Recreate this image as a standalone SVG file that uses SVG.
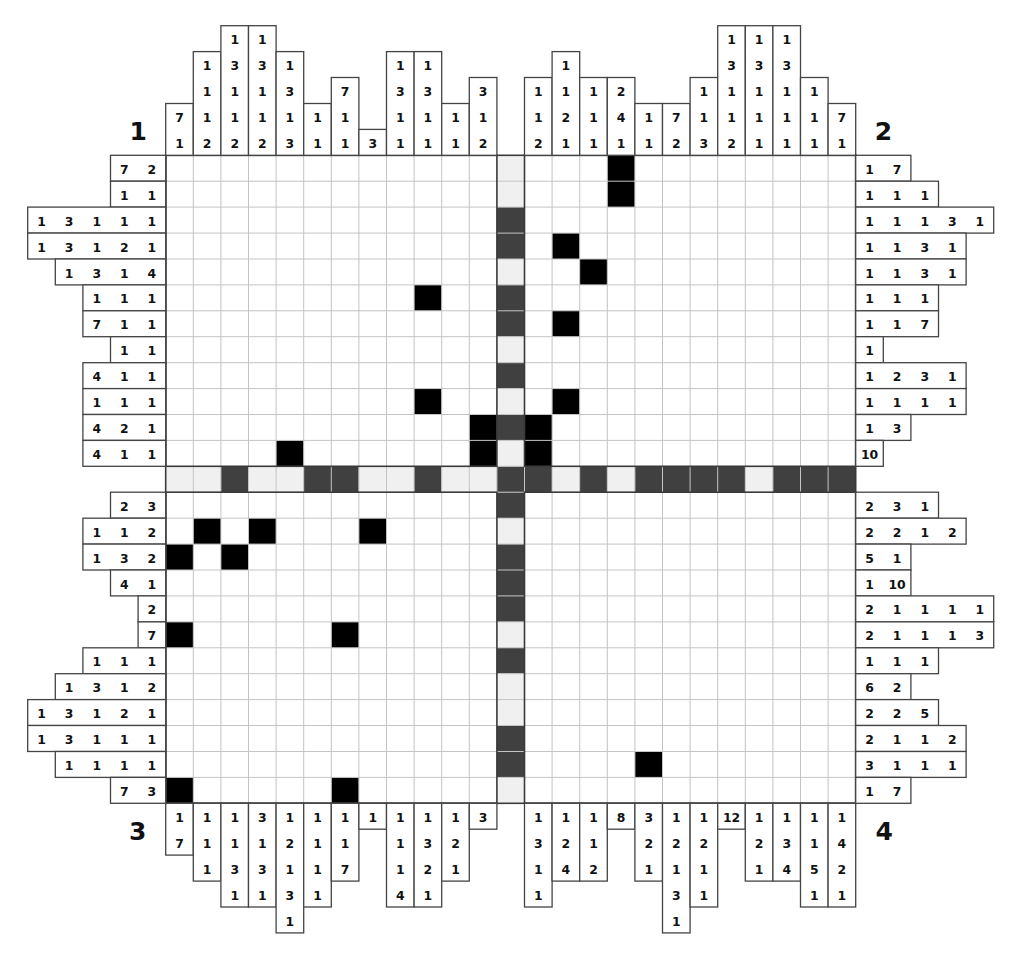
<svg xmlns="http://www.w3.org/2000/svg" width="1024" height="968" viewBox="0 0 1024 968">
<style>
.t{font-family:"DejaVu Sans","Verdana","Liberation Sans",sans-serif;font-weight:bold;font-size:12.4px;text-anchor:middle;fill:#111;transform:translate(0px,1.3px)}
.lbl{font-family:"DejaVu Sans","Verdana","Liberation Sans",sans-serif;font-weight:bold;font-size:25px;text-anchor:middle;fill:#111}
.b{fill:#fff;stroke:#444;stroke-width:1.3}
.L{fill:#f0f0f0}
.D{fill:#404040}
.K{fill:#000}
.g{fill:none;stroke:#c4c4c4;stroke-width:1}
.q{fill:none;stroke:#3a3a3a;stroke-width:1.6}
</style>
<rect x="0" y="0" width="1024" height="968" fill="#fff"/>
<g id="labels">
<text class="lbl" x="138.3" y="140">1</text>
<text class="lbl" x="883.5" y="140">2</text>
<text class="lbl" x="137.7" y="840">3</text>
<text class="lbl" x="884.3" y="840">4</text>
</g>
<g id="grid">
<rect x="165.7" y="155.3" width="690" height="648" fill="#fff"/>
<g id="center-cells">
<rect class="L" x="165.7" y="466.3" width="55.2" height="25.9"/>
<rect class="D" x="220.9" y="466.3" width="27.6" height="25.9"/>
<rect class="L" x="248.5" y="466.3" width="55.2" height="25.9"/>
<rect class="D" x="303.7" y="466.3" width="55.2" height="25.9"/>
<rect class="L" x="358.9" y="466.3" width="55.2" height="25.9"/>
<rect class="D" x="414.1" y="466.3" width="27.6" height="25.9"/>
<rect class="L" x="441.7" y="466.3" width="55.2" height="25.9"/>
<rect class="D" x="496.9" y="466.3" width="55.2" height="25.9"/>
<rect class="L" x="552.1" y="466.3" width="27.6" height="25.9"/>
<rect class="D" x="579.7" y="466.3" width="27.6" height="25.9"/>
<rect class="L" x="607.3" y="466.3" width="27.6" height="25.9"/>
<rect class="D" x="634.9" y="466.3" width="110.4" height="25.9"/>
<rect class="L" x="745.3" y="466.3" width="27.6" height="25.9"/>
<rect class="D" x="772.9" y="466.3" width="82.8" height="25.9"/>
<rect class="L" x="496.9" y="155.3" width="27.6" height="51.8"/>
<rect class="D" x="496.9" y="207.1" width="27.6" height="51.9"/>
<rect class="L" x="496.9" y="259.0" width="27.6" height="25.9"/>
<rect class="D" x="496.9" y="284.9" width="27.6" height="51.8"/>
<rect class="L" x="496.9" y="336.7" width="27.6" height="26"/>
<rect class="D" x="496.9" y="362.7" width="27.6" height="25.9"/>
<rect class="L" x="496.9" y="388.6" width="27.6" height="25.9"/>
<rect class="D" x="496.9" y="414.5" width="27.6" height="25.9"/>
<rect class="L" x="496.9" y="440.4" width="27.6" height="25.9"/>
<rect class="D" x="496.9" y="492.2" width="27.6" height="26"/>
<rect class="L" x="496.9" y="518.2" width="27.6" height="25.9"/>
<rect class="D" x="496.9" y="544.1" width="27.6" height="77.8"/>
<rect class="L" x="496.9" y="621.9" width="27.6" height="25.9"/>
<rect class="D" x="496.9" y="647.8" width="27.6" height="25.9"/>
<rect class="L" x="496.9" y="673.7" width="27.6" height="51.8"/>
<rect class="D" x="496.9" y="725.5" width="27.6" height="51.9"/>
<rect class="L" x="496.9" y="777.4" width="27.6" height="25.9"/>
</g>
<g id="filled">
<rect class="K" x="414.1" y="284.9" width="27.6" height="25.9"/>
<rect class="K" x="414.1" y="388.6" width="27.6" height="25.9"/>
<rect class="K" x="469.3" y="414.5" width="27.6" height="51.8"/>
<rect class="K" x="276.1" y="440.4" width="27.6" height="25.9"/>
<rect class="K" x="607.3" y="155.3" width="27.6" height="51.8"/>
<rect class="K" x="552.1" y="233.1" width="27.6" height="25.9"/>
<rect class="K" x="579.7" y="259.0" width="27.6" height="25.9"/>
<rect class="K" x="552.1" y="310.8" width="27.6" height="25.9"/>
<rect class="K" x="552.1" y="388.6" width="27.6" height="25.9"/>
<rect class="K" x="524.5" y="414.5" width="27.6" height="51.8"/>
<rect class="K" x="193.3" y="518.2" width="27.6" height="25.9"/>
<rect class="K" x="248.5" y="518.2" width="27.6" height="25.9"/>
<rect class="K" x="358.9" y="518.2" width="27.6" height="25.9"/>
<rect class="K" x="165.7" y="544.1" width="27.6" height="25.9"/>
<rect class="K" x="220.9" y="544.1" width="27.6" height="25.9"/>
<rect class="K" x="165.7" y="621.9" width="27.6" height="25.9"/>
<rect class="K" x="331.3" y="621.9" width="27.6" height="25.9"/>
<rect class="K" x="165.7" y="777.4" width="27.6" height="25.9"/>
<rect class="K" x="331.3" y="777.4" width="27.6" height="25.9"/>
<rect class="K" x="634.9" y="751.5" width="27.6" height="25.9"/>
</g>
<path class="g" d="M193.3 155.3V803.3M220.9 155.3V803.3M248.5 155.3V803.3M276.1 155.3V803.3M303.7 155.3V803.3M331.3 155.3V803.3M358.9 155.3V803.3M386.5 155.3V803.3M414.1 155.3V803.3M441.7 155.3V803.3M469.3 155.3V803.3M552.1 155.3V803.3M579.7 155.3V803.3M607.3 155.3V803.3M634.9 155.3V803.3M662.5 155.3V803.3M690.1 155.3V803.3M717.7 155.3V803.3M745.3 155.3V803.3M772.9 155.3V803.3M800.5 155.3V803.3M828.1 155.3V803.3M496.9 466.3V492.2M524.5 466.3V492.2M165.7 181.2H855.7M165.7 207.1H855.7M165.7 233.1H855.7M165.7 259.0H855.7M165.7 284.9H855.7M165.7 310.8H855.7M165.7 336.7H855.7M165.7 362.7H855.7M165.7 388.6H855.7M165.7 414.5H855.7M165.7 440.4H855.7M165.7 518.2H855.7M165.7 544.1H855.7M165.7 570.0H855.7M165.7 595.9H855.7M165.7 621.9H855.7M165.7 647.8H855.7M165.7 673.7H855.7M165.7 699.6H855.7M165.7 725.5H855.7M165.7 751.5H855.7M165.7 777.4H855.7M496.9 466.3H524.5M496.9 492.2H524.5"/>
<rect class="q" x="165.7" y="155.3" width="331.2" height="311"/>
<rect class="q" x="524.5" y="155.3" width="331.2" height="311"/>
<rect class="q" x="165.7" y="492.2" width="331.2" height="311.1"/>
<rect class="q" x="524.5" y="492.2" width="331.2" height="311.1"/>
<rect class="q" x="165.7" y="155.3" width="690" height="648"/>
</g>
<g id="top-clues">
<g id="tc0"><rect class="b" x="165.7" y="103.5" width="27.6" height="51.8"/><text class="t" x="179.5" y="120.8">7</text><text class="t" x="179.5" y="146.7">1</text></g>
<g id="tc1"><rect class="b" x="193.3" y="51.6" width="27.6" height="103.7"/><text class="t" x="207.1" y="68.9">1</text><text class="t" x="207.1" y="94.8">1</text><text class="t" x="207.1" y="120.8">1</text><text class="t" x="207.1" y="146.7">2</text></g>
<g id="tc2"><rect class="b" x="220.9" y="25.7" width="27.6" height="129.6"/><text class="t" x="234.7" y="43">1</text><text class="t" x="234.7" y="68.9">3</text><text class="t" x="234.7" y="94.8">1</text><text class="t" x="234.7" y="120.8">1</text><text class="t" x="234.7" y="146.7">2</text></g>
<g id="tc3"><rect class="b" x="248.5" y="25.7" width="27.6" height="129.6"/><text class="t" x="262.3" y="43">1</text><text class="t" x="262.3" y="68.9">3</text><text class="t" x="262.3" y="94.8">1</text><text class="t" x="262.3" y="120.8">1</text><text class="t" x="262.3" y="146.7">2</text></g>
<g id="tc4"><rect class="b" x="276.1" y="51.6" width="27.6" height="103.7"/><text class="t" x="289.9" y="68.9">1</text><text class="t" x="289.9" y="94.8">3</text><text class="t" x="289.9" y="120.8">1</text><text class="t" x="289.9" y="146.7">3</text></g>
<g id="tc5"><rect class="b" x="303.7" y="103.5" width="27.6" height="51.8"/><text class="t" x="317.5" y="120.8">1</text><text class="t" x="317.5" y="146.7">1</text></g>
<g id="tc6"><rect class="b" x="331.3" y="77.5" width="27.6" height="77.8"/><text class="t" x="345.1" y="94.8">7</text><text class="t" x="345.1" y="120.8">1</text><text class="t" x="345.1" y="146.7">1</text></g>
<g id="tc7"><rect class="b" x="358.9" y="129.4" width="27.6" height="25.9"/><text class="t" x="372.7" y="146.7">3</text></g>
<g id="tc8"><rect class="b" x="386.5" y="51.6" width="27.6" height="103.7"/><text class="t" x="400.3" y="68.9">1</text><text class="t" x="400.3" y="94.8">3</text><text class="t" x="400.3" y="120.8">1</text><text class="t" x="400.3" y="146.7">1</text></g>
<g id="tc9"><rect class="b" x="414.1" y="51.6" width="27.6" height="103.7"/><text class="t" x="427.9" y="68.9">1</text><text class="t" x="427.9" y="94.8">3</text><text class="t" x="427.9" y="120.8">1</text><text class="t" x="427.9" y="146.7">1</text></g>
<g id="tc10"><rect class="b" x="441.7" y="103.5" width="27.6" height="51.8"/><text class="t" x="455.5" y="120.8">1</text><text class="t" x="455.5" y="146.7">1</text></g>
<g id="tc11"><rect class="b" x="469.3" y="77.5" width="27.6" height="77.8"/><text class="t" x="483.1" y="94.8">3</text><text class="t" x="483.1" y="120.8">1</text><text class="t" x="483.1" y="146.7">2</text></g>
<g id="tc13"><rect class="b" x="524.5" y="77.5" width="27.6" height="77.8"/><text class="t" x="538.3" y="94.8">1</text><text class="t" x="538.3" y="120.8">1</text><text class="t" x="538.3" y="146.7">2</text></g>
<g id="tc14"><rect class="b" x="552.1" y="51.6" width="27.6" height="103.7"/><text class="t" x="565.9" y="68.9">1</text><text class="t" x="565.9" y="94.8">1</text><text class="t" x="565.9" y="120.8">2</text><text class="t" x="565.9" y="146.7">1</text></g>
<g id="tc15"><rect class="b" x="579.7" y="77.5" width="27.6" height="77.8"/><text class="t" x="593.5" y="94.8">1</text><text class="t" x="593.5" y="120.8">1</text><text class="t" x="593.5" y="146.7">1</text></g>
<g id="tc16"><rect class="b" x="607.3" y="77.5" width="27.6" height="77.8"/><text class="t" x="621.1" y="94.8">2</text><text class="t" x="621.1" y="120.8">4</text><text class="t" x="621.1" y="146.7">1</text></g>
<g id="tc17"><rect class="b" x="634.9" y="103.5" width="27.6" height="51.8"/><text class="t" x="648.7" y="120.8">1</text><text class="t" x="648.7" y="146.7">1</text></g>
<g id="tc18"><rect class="b" x="662.5" y="103.5" width="27.6" height="51.8"/><text class="t" x="676.3" y="120.8">7</text><text class="t" x="676.3" y="146.7">2</text></g>
<g id="tc19"><rect class="b" x="690.1" y="77.5" width="27.6" height="77.8"/><text class="t" x="703.9" y="94.8">1</text><text class="t" x="703.9" y="120.8">1</text><text class="t" x="703.9" y="146.7">3</text></g>
<g id="tc20"><rect class="b" x="717.7" y="25.7" width="27.6" height="129.6"/><text class="t" x="731.5" y="43">1</text><text class="t" x="731.5" y="68.9">3</text><text class="t" x="731.5" y="94.8">1</text><text class="t" x="731.5" y="120.8">1</text><text class="t" x="731.5" y="146.7">2</text></g>
<g id="tc21"><rect class="b" x="745.3" y="25.7" width="27.6" height="129.6"/><text class="t" x="759.1" y="43">1</text><text class="t" x="759.1" y="68.9">3</text><text class="t" x="759.1" y="94.8">1</text><text class="t" x="759.1" y="120.8">1</text><text class="t" x="759.1" y="146.7">1</text></g>
<g id="tc22"><rect class="b" x="772.9" y="25.7" width="27.6" height="129.6"/><text class="t" x="786.7" y="43">1</text><text class="t" x="786.7" y="68.9">3</text><text class="t" x="786.7" y="94.8">1</text><text class="t" x="786.7" y="120.8">1</text><text class="t" x="786.7" y="146.7">1</text></g>
<g id="tc23"><rect class="b" x="800.5" y="77.5" width="27.6" height="77.8"/><text class="t" x="814.3" y="94.8">1</text><text class="t" x="814.3" y="120.8">1</text><text class="t" x="814.3" y="146.7">1</text></g>
<g id="tc24"><rect class="b" x="828.1" y="103.5" width="27.6" height="51.8"/><text class="t" x="841.9" y="120.8">7</text><text class="t" x="841.9" y="146.7">1</text></g>
</g>
<g id="bottom-clues">
<g id="bc0"><rect class="b" x="165.7" y="803.3" width="27.6" height="51.8"/><text class="t" x="179.5" y="820.6">1</text><text class="t" x="179.5" y="846.5">7</text></g>
<g id="bc1"><rect class="b" x="193.3" y="803.3" width="27.6" height="77.8"/><text class="t" x="207.1" y="820.6">1</text><text class="t" x="207.1" y="846.5">1</text><text class="t" x="207.1" y="872.4">1</text></g>
<g id="bc2"><rect class="b" x="220.9" y="803.3" width="27.6" height="103.7"/><text class="t" x="234.7" y="820.6">1</text><text class="t" x="234.7" y="846.5">1</text><text class="t" x="234.7" y="872.4">3</text><text class="t" x="234.7" y="898.4">1</text></g>
<g id="bc3"><rect class="b" x="248.5" y="803.3" width="27.6" height="103.7"/><text class="t" x="262.3" y="820.6">3</text><text class="t" x="262.3" y="846.5">1</text><text class="t" x="262.3" y="872.4">3</text><text class="t" x="262.3" y="898.4">1</text></g>
<g id="bc4"><rect class="b" x="276.1" y="803.3" width="27.6" height="129.6"/><text class="t" x="289.9" y="820.6">1</text><text class="t" x="289.9" y="846.5">2</text><text class="t" x="289.9" y="872.4">1</text><text class="t" x="289.9" y="898.4">3</text><text class="t" x="289.9" y="924.3">1</text></g>
<g id="bc5"><rect class="b" x="303.7" y="803.3" width="27.6" height="103.7"/><text class="t" x="317.5" y="820.6">1</text><text class="t" x="317.5" y="846.5">1</text><text class="t" x="317.5" y="872.4">1</text><text class="t" x="317.5" y="898.4">1</text></g>
<g id="bc6"><rect class="b" x="331.3" y="803.3" width="27.6" height="77.8"/><text class="t" x="345.1" y="820.6">1</text><text class="t" x="345.1" y="846.5">1</text><text class="t" x="345.1" y="872.4">7</text></g>
<g id="bc7"><rect class="b" x="358.9" y="803.3" width="27.6" height="25.9"/><text class="t" x="372.7" y="820.6">1</text></g>
<g id="bc8"><rect class="b" x="386.5" y="803.3" width="27.6" height="103.7"/><text class="t" x="400.3" y="820.6">1</text><text class="t" x="400.3" y="846.5">1</text><text class="t" x="400.3" y="872.4">1</text><text class="t" x="400.3" y="898.4">4</text></g>
<g id="bc9"><rect class="b" x="414.1" y="803.3" width="27.6" height="103.7"/><text class="t" x="427.9" y="820.6">1</text><text class="t" x="427.9" y="846.5">3</text><text class="t" x="427.9" y="872.4">2</text><text class="t" x="427.9" y="898.4">1</text></g>
<g id="bc10"><rect class="b" x="441.7" y="803.3" width="27.6" height="77.8"/><text class="t" x="455.5" y="820.6">1</text><text class="t" x="455.5" y="846.5">2</text><text class="t" x="455.5" y="872.4">1</text></g>
<g id="bc11"><rect class="b" x="469.3" y="803.3" width="27.6" height="25.9"/><text class="t" x="483.1" y="820.6">3</text></g>
<g id="bc13"><rect class="b" x="524.5" y="803.3" width="27.6" height="103.7"/><text class="t" x="538.3" y="820.6">1</text><text class="t" x="538.3" y="846.5">3</text><text class="t" x="538.3" y="872.4">1</text><text class="t" x="538.3" y="898.4">1</text></g>
<g id="bc14"><rect class="b" x="552.1" y="803.3" width="27.6" height="77.8"/><text class="t" x="565.9" y="820.6">1</text><text class="t" x="565.9" y="846.5">2</text><text class="t" x="565.9" y="872.4">4</text></g>
<g id="bc15"><rect class="b" x="579.7" y="803.3" width="27.6" height="77.8"/><text class="t" x="593.5" y="820.6">1</text><text class="t" x="593.5" y="846.5">1</text><text class="t" x="593.5" y="872.4">2</text></g>
<g id="bc16"><rect class="b" x="607.3" y="803.3" width="27.6" height="25.9"/><text class="t" x="621.1" y="820.6">8</text></g>
<g id="bc17"><rect class="b" x="634.9" y="803.3" width="27.6" height="77.8"/><text class="t" x="648.7" y="820.6">3</text><text class="t" x="648.7" y="846.5">2</text><text class="t" x="648.7" y="872.4">1</text></g>
<g id="bc18"><rect class="b" x="662.5" y="803.3" width="27.6" height="129.6"/><text class="t" x="676.3" y="820.6">1</text><text class="t" x="676.3" y="846.5">2</text><text class="t" x="676.3" y="872.4">1</text><text class="t" x="676.3" y="898.4">3</text><text class="t" x="676.3" y="924.3">1</text></g>
<g id="bc19"><rect class="b" x="690.1" y="803.3" width="27.6" height="103.7"/><text class="t" x="703.9" y="820.6">1</text><text class="t" x="703.9" y="846.5">2</text><text class="t" x="703.9" y="872.4">1</text><text class="t" x="703.9" y="898.4">1</text></g>
<g id="bc20"><rect class="b" x="717.7" y="803.3" width="27.6" height="25.9"/><text class="t" x="731.5" y="820.6">12</text></g>
<g id="bc21"><rect class="b" x="745.3" y="803.3" width="27.6" height="77.8"/><text class="t" x="759.1" y="820.6">1</text><text class="t" x="759.1" y="846.5">2</text><text class="t" x="759.1" y="872.4">1</text></g>
<g id="bc22"><rect class="b" x="772.9" y="803.3" width="27.6" height="77.8"/><text class="t" x="786.7" y="820.6">1</text><text class="t" x="786.7" y="846.5">3</text><text class="t" x="786.7" y="872.4">4</text></g>
<g id="bc23"><rect class="b" x="800.5" y="803.3" width="27.6" height="103.7"/><text class="t" x="814.3" y="820.6">1</text><text class="t" x="814.3" y="846.5">1</text><text class="t" x="814.3" y="872.4">5</text><text class="t" x="814.3" y="898.4">1</text></g>
<g id="bc24"><rect class="b" x="828.1" y="803.3" width="27.6" height="103.7"/><text class="t" x="841.9" y="820.6">1</text><text class="t" x="841.9" y="846.5">4</text><text class="t" x="841.9" y="872.4">2</text><text class="t" x="841.9" y="898.4">1</text></g>
</g>
<g id="left-clues">
<g id="lc0"><rect class="b" x="110.5" y="155.3" width="55.2" height="25.9"/><text class="t" x="124.3" y="172.6">7</text><text class="t" x="151.9" y="172.6">2</text></g>
<g id="lc1"><rect class="b" x="110.5" y="181.2" width="55.2" height="25.9"/><text class="t" x="124.3" y="198.5">1</text><text class="t" x="151.9" y="198.5">1</text></g>
<g id="lc2"><rect class="b" x="27.7" y="207.1" width="138" height="26"/><text class="t" x="41.5" y="224.4">1</text><text class="t" x="69.1" y="224.4">3</text><text class="t" x="96.7" y="224.4">1</text><text class="t" x="124.3" y="224.4">1</text><text class="t" x="151.9" y="224.4">1</text></g>
<g id="lc3"><rect class="b" x="27.7" y="233.1" width="138" height="25.9"/><text class="t" x="41.5" y="250.4">1</text><text class="t" x="69.1" y="250.4">3</text><text class="t" x="96.7" y="250.4">1</text><text class="t" x="124.3" y="250.4">2</text><text class="t" x="151.9" y="250.4">1</text></g>
<g id="lc4"><rect class="b" x="55.3" y="259.0" width="110.4" height="25.9"/><text class="t" x="69.1" y="276.3">1</text><text class="t" x="96.7" y="276.3">3</text><text class="t" x="124.3" y="276.3">1</text><text class="t" x="151.9" y="276.3">4</text></g>
<g id="lc5"><rect class="b" x="82.9" y="284.9" width="82.8" height="25.9"/><text class="t" x="96.7" y="302.2">1</text><text class="t" x="124.3" y="302.2">1</text><text class="t" x="151.9" y="302.2">1</text></g>
<g id="lc6"><rect class="b" x="82.9" y="310.8" width="82.8" height="25.9"/><text class="t" x="96.7" y="328.1">7</text><text class="t" x="124.3" y="328.1">1</text><text class="t" x="151.9" y="328.1">1</text></g>
<g id="lc7"><rect class="b" x="110.5" y="336.7" width="55.2" height="26"/><text class="t" x="124.3" y="354">1</text><text class="t" x="151.9" y="354">1</text></g>
<g id="lc8"><rect class="b" x="82.9" y="362.7" width="82.8" height="25.9"/><text class="t" x="96.7" y="380">4</text><text class="t" x="124.3" y="380">1</text><text class="t" x="151.9" y="380">1</text></g>
<g id="lc9"><rect class="b" x="82.9" y="388.6" width="82.8" height="25.9"/><text class="t" x="96.7" y="405.9">1</text><text class="t" x="124.3" y="405.9">1</text><text class="t" x="151.9" y="405.9">1</text></g>
<g id="lc10"><rect class="b" x="82.9" y="414.5" width="82.8" height="25.9"/><text class="t" x="96.7" y="431.8">4</text><text class="t" x="124.3" y="431.8">2</text><text class="t" x="151.9" y="431.8">1</text></g>
<g id="lc11"><rect class="b" x="82.9" y="440.4" width="82.8" height="25.9"/><text class="t" x="96.7" y="457.7">4</text><text class="t" x="124.3" y="457.7">1</text><text class="t" x="151.9" y="457.7">1</text></g>
<g id="lc13"><rect class="b" x="110.5" y="492.2" width="55.2" height="26"/><text class="t" x="124.3" y="509.6">2</text><text class="t" x="151.9" y="509.6">3</text></g>
<g id="lc14"><rect class="b" x="82.9" y="518.2" width="82.8" height="25.9"/><text class="t" x="96.7" y="535.5">1</text><text class="t" x="124.3" y="535.5">1</text><text class="t" x="151.9" y="535.5">2</text></g>
<g id="lc15"><rect class="b" x="82.9" y="544.1" width="82.8" height="25.9"/><text class="t" x="96.7" y="561.4">1</text><text class="t" x="124.3" y="561.4">3</text><text class="t" x="151.9" y="561.4">2</text></g>
<g id="lc16"><rect class="b" x="110.5" y="570.0" width="55.2" height="25.9"/><text class="t" x="124.3" y="587.3">4</text><text class="t" x="151.9" y="587.3">1</text></g>
<g id="lc17"><rect class="b" x="138.1" y="595.9" width="27.6" height="26"/><text class="t" x="151.9" y="613.2">2</text></g>
<g id="lc18"><rect class="b" x="138.1" y="621.9" width="27.6" height="25.9"/><text class="t" x="151.9" y="639.2">7</text></g>
<g id="lc19"><rect class="b" x="82.9" y="647.8" width="82.8" height="25.9"/><text class="t" x="96.7" y="665.1">1</text><text class="t" x="124.3" y="665.1">1</text><text class="t" x="151.9" y="665.1">1</text></g>
<g id="lc20"><rect class="b" x="55.3" y="673.7" width="110.4" height="25.9"/><text class="t" x="69.1" y="691">1</text><text class="t" x="96.7" y="691">3</text><text class="t" x="124.3" y="691">1</text><text class="t" x="151.9" y="691">2</text></g>
<g id="lc21"><rect class="b" x="27.7" y="699.6" width="138" height="25.9"/><text class="t" x="41.5" y="716.9">1</text><text class="t" x="69.1" y="716.9">3</text><text class="t" x="96.7" y="716.9">1</text><text class="t" x="124.3" y="716.9">2</text><text class="t" x="151.9" y="716.9">1</text></g>
<g id="lc22"><rect class="b" x="27.7" y="725.5" width="138" height="26"/><text class="t" x="41.5" y="742.8">1</text><text class="t" x="69.1" y="742.8">3</text><text class="t" x="96.7" y="742.8">1</text><text class="t" x="124.3" y="742.8">1</text><text class="t" x="151.9" y="742.8">1</text></g>
<g id="lc23"><rect class="b" x="55.3" y="751.5" width="110.4" height="25.9"/><text class="t" x="69.1" y="768.8">1</text><text class="t" x="96.7" y="768.8">1</text><text class="t" x="124.3" y="768.8">1</text><text class="t" x="151.9" y="768.8">1</text></g>
<g id="lc24"><rect class="b" x="110.5" y="777.4" width="55.2" height="25.9"/><text class="t" x="124.3" y="794.7">7</text><text class="t" x="151.9" y="794.7">3</text></g>
</g>
<g id="right-clues">
<g id="rc0"><rect class="b" x="855.7" y="155.3" width="55.2" height="25.9"/><text class="t" x="869.5" y="172.6">1</text><text class="t" x="897.1" y="172.6">7</text></g>
<g id="rc1"><rect class="b" x="855.7" y="181.2" width="82.8" height="25.9"/><text class="t" x="869.5" y="198.5">1</text><text class="t" x="897.1" y="198.5">1</text><text class="t" x="924.7" y="198.5">1</text></g>
<g id="rc2"><rect class="b" x="855.7" y="207.1" width="138" height="26"/><text class="t" x="869.5" y="224.4">1</text><text class="t" x="897.1" y="224.4">1</text><text class="t" x="924.7" y="224.4">1</text><text class="t" x="952.3" y="224.4">3</text><text class="t" x="979.9" y="224.4">1</text></g>
<g id="rc3"><rect class="b" x="855.7" y="233.1" width="110.4" height="25.9"/><text class="t" x="869.5" y="250.4">1</text><text class="t" x="897.1" y="250.4">1</text><text class="t" x="924.7" y="250.4">3</text><text class="t" x="952.3" y="250.4">1</text></g>
<g id="rc4"><rect class="b" x="855.7" y="259.0" width="110.4" height="25.9"/><text class="t" x="869.5" y="276.3">1</text><text class="t" x="897.1" y="276.3">1</text><text class="t" x="924.7" y="276.3">3</text><text class="t" x="952.3" y="276.3">1</text></g>
<g id="rc5"><rect class="b" x="855.7" y="284.9" width="82.8" height="25.9"/><text class="t" x="869.5" y="302.2">1</text><text class="t" x="897.1" y="302.2">1</text><text class="t" x="924.7" y="302.2">1</text></g>
<g id="rc6"><rect class="b" x="855.7" y="310.8" width="82.8" height="25.9"/><text class="t" x="869.5" y="328.1">1</text><text class="t" x="897.1" y="328.1">1</text><text class="t" x="924.7" y="328.1">7</text></g>
<g id="rc7"><rect class="b" x="855.7" y="336.7" width="27.6" height="26"/><text class="t" x="869.5" y="354">1</text></g>
<g id="rc8"><rect class="b" x="855.7" y="362.7" width="110.4" height="25.9"/><text class="t" x="869.5" y="380">1</text><text class="t" x="897.1" y="380">2</text><text class="t" x="924.7" y="380">3</text><text class="t" x="952.3" y="380">1</text></g>
<g id="rc9"><rect class="b" x="855.7" y="388.6" width="110.4" height="25.9"/><text class="t" x="869.5" y="405.9">1</text><text class="t" x="897.1" y="405.9">1</text><text class="t" x="924.7" y="405.9">1</text><text class="t" x="952.3" y="405.9">1</text></g>
<g id="rc10"><rect class="b" x="855.7" y="414.5" width="55.2" height="25.9"/><text class="t" x="869.5" y="431.8">1</text><text class="t" x="897.1" y="431.8">3</text></g>
<g id="rc11"><rect class="b" x="855.7" y="440.4" width="27.6" height="25.9"/><text class="t" x="869.5" y="457.7">10</text></g>
<g id="rc13"><rect class="b" x="855.7" y="492.2" width="82.8" height="26"/><text class="t" x="869.5" y="509.6">2</text><text class="t" x="897.1" y="509.6">3</text><text class="t" x="924.7" y="509.6">1</text></g>
<g id="rc14"><rect class="b" x="855.7" y="518.2" width="110.4" height="25.9"/><text class="t" x="869.5" y="535.5">2</text><text class="t" x="897.1" y="535.5">2</text><text class="t" x="924.7" y="535.5">1</text><text class="t" x="952.3" y="535.5">2</text></g>
<g id="rc15"><rect class="b" x="855.7" y="544.1" width="55.2" height="25.9"/><text class="t" x="869.5" y="561.4">5</text><text class="t" x="897.1" y="561.4">1</text></g>
<g id="rc16"><rect class="b" x="855.7" y="570.0" width="55.2" height="25.9"/><text class="t" x="869.5" y="587.3">1</text><text class="t" x="897.1" y="587.3">10</text></g>
<g id="rc17"><rect class="b" x="855.7" y="595.9" width="138" height="26"/><text class="t" x="869.5" y="613.2">2</text><text class="t" x="897.1" y="613.2">1</text><text class="t" x="924.7" y="613.2">1</text><text class="t" x="952.3" y="613.2">1</text><text class="t" x="979.9" y="613.2">1</text></g>
<g id="rc18"><rect class="b" x="855.7" y="621.9" width="138" height="25.9"/><text class="t" x="869.5" y="639.2">2</text><text class="t" x="897.1" y="639.2">1</text><text class="t" x="924.7" y="639.2">1</text><text class="t" x="952.3" y="639.2">1</text><text class="t" x="979.9" y="639.2">3</text></g>
<g id="rc19"><rect class="b" x="855.7" y="647.8" width="82.8" height="25.9"/><text class="t" x="869.5" y="665.1">1</text><text class="t" x="897.1" y="665.1">1</text><text class="t" x="924.7" y="665.1">1</text></g>
<g id="rc20"><rect class="b" x="855.7" y="673.7" width="55.2" height="25.9"/><text class="t" x="869.5" y="691">6</text><text class="t" x="897.1" y="691">2</text></g>
<g id="rc21"><rect class="b" x="855.7" y="699.6" width="82.8" height="25.9"/><text class="t" x="869.5" y="716.9">2</text><text class="t" x="897.1" y="716.9">2</text><text class="t" x="924.7" y="716.9">5</text></g>
<g id="rc22"><rect class="b" x="855.7" y="725.5" width="110.4" height="26"/><text class="t" x="869.5" y="742.8">2</text><text class="t" x="897.1" y="742.8">1</text><text class="t" x="924.7" y="742.8">1</text><text class="t" x="952.3" y="742.8">2</text></g>
<g id="rc23"><rect class="b" x="855.7" y="751.5" width="110.4" height="25.9"/><text class="t" x="869.5" y="768.8">3</text><text class="t" x="897.1" y="768.8">1</text><text class="t" x="924.7" y="768.8">1</text><text class="t" x="952.3" y="768.8">1</text></g>
<g id="rc24"><rect class="b" x="855.7" y="777.4" width="55.2" height="25.9"/><text class="t" x="869.5" y="794.7">1</text><text class="t" x="897.1" y="794.7">7</text></g>
</g>
</svg>
